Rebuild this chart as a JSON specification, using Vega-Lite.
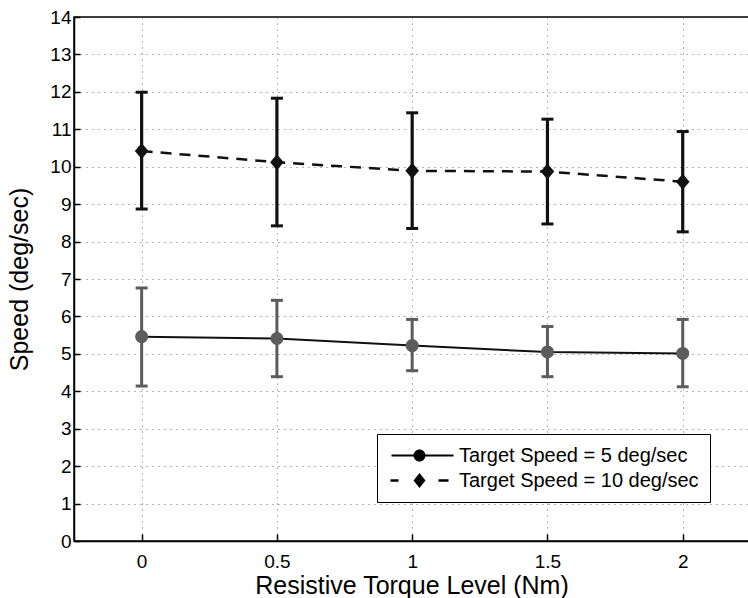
{
  "$schema": "https://vega.github.io/schema/vega-lite/v6.json",
  "width": 675,
  "height": 524,
  "autosize": {"type": "none"},
  "padding": {"left": 74, "top": 17, "right": 0, "bottom": 57},
  "background": "white",
  "config": {
    "view": {"stroke": "black", "strokeWidth": 1.5},
    "font": "Liberation Sans",
    "axis": {
      "labelFont": "Liberation Sans",
      "titleFont": "Liberation Sans",
      "labelColor": "black",
      "titleColor": "black",
      "labelFontSize": 19,
      "titleFontSize": 25,
      "titleFontWeight": "normal",
      "domainColor": "black",
      "domainWidth": 1.5,
      "tickColor": "black",
      "tickWidth": 1.5,
      "gridColor": "#444444",
      "gridDash": [1, 5],
      "gridWidth": 1,
      "gridOpacity": 0.8,
      "labelOverlap": false
    }
  },
  "data": {
    "values": [
      {"series": "Target Speed = 5 deg/sec", "x": 0, "mean": 5.46, "lo": 4.14, "hi": 6.76},
      {"series": "Target Speed = 5 deg/sec", "x": 0.5, "mean": 5.41, "lo": 4.39, "hi": 6.43},
      {"series": "Target Speed = 5 deg/sec", "x": 1, "mean": 5.22, "lo": 4.55, "hi": 5.92},
      {"series": "Target Speed = 5 deg/sec", "x": 1.5, "mean": 5.05, "lo": 4.39, "hi": 5.73},
      {"series": "Target Speed = 5 deg/sec", "x": 2, "mean": 5.01, "lo": 4.12, "hi": 5.92},
      {"series": "Target Speed = 10 deg/sec", "x": 0, "mean": 10.42, "lo": 8.87, "hi": 11.99},
      {"series": "Target Speed = 10 deg/sec", "x": 0.5, "mean": 10.12, "lo": 8.42, "hi": 11.83},
      {"series": "Target Speed = 10 deg/sec", "x": 1, "mean": 9.89, "lo": 8.35, "hi": 11.44},
      {"series": "Target Speed = 10 deg/sec", "x": 1.5, "mean": 9.87, "lo": 8.47, "hi": 11.27},
      {"series": "Target Speed = 10 deg/sec", "x": 2, "mean": 9.6, "lo": 8.26, "hi": 10.94}
    ]
  },
  "layer": [
    {
      "mark": {"type": "point", "filled": true, "opacity": 0, "fill": "black", "stroke": "black", "strokeWidth": 1},
      "encoding": {
        "x": {
          "field": "x", "type": "quantitative",
          "scale": {"domain": [-0.25, 2.245], "nice": false, "zero": false},
          "axis": {"orient": "bottom", "values": [0, 0.5, 1, 1.5, 2], "tickCount": 20, "format": ".1~f", "grid": true,
            "tickSize": -7, "labelPadding": 18, "title": "Resistive Torque Level (Nm)", "titlePadding": 2}
        },
        "y": {
          "field": "mean", "type": "quantitative",
          "scale": {"domain": [0, 14], "nice": false, "zero": true},
          "axis": {"values": [0,1,2,3,4,5,6,7,8,9,10,11,12,13,14], "tickCount": 30, "format": "d", "grid": true,
            "tickSize": -6, "labelPadding": 9, "title": "Speed (deg/sec)", "titlePadding": 17}
        },
        "shape": {"field": "series", "type": "nominal",
          "scale": {"domain": ["Target Speed = 5 deg/sec", "Target Speed = 10 deg/sec"],
            "range": ["M-0.7,-0.1H5.5V0.1H-0.7ZM1.5,0A0.6,0.6 0 1 1 2.7,0A0.6,0.6 0 1 1 1.5,0Z", "M-0.8,-0.12H0V0.12H-0.8ZM4,-0.12H5V0.12H4ZM2.1,-0.75L2.7,0L2.1,0.75L1.5,0Z"]},
          "legend": {
            "title": null,
            "orient": "none",
            "legendX": 303,
            "legendY": 417,
            "fillColor": "white",
            "strokeColor": "black",
            "padding": 11,
            "labelFontSize": 20,
            "labelFont": "Liberation Sans",
            "labelColor": "black",
            "labelLimit": 400,
            "labelOffset": 50,
            "rowPadding": 4,
            "symbolSize": 400,
            "symbolOpacity": 1,
            "symbolFillColor": "black",
            "symbolStrokeColor": "black",
            "symbolStrokeWidth": 1
          }
        }
      }
    },
    {
      "transform": [{"filter": "datum.series == 'Target Speed = 5 deg/sec'"}],
      "encoding": {"x": {"field": "x", "type": "quantitative"}},
      "layer": [
        {"mark": {"type": "rule", "strokeWidth": 3, "color": "#5c5c5c"},
         "encoding": {"y": {"field": "lo", "type": "quantitative"}, "y2": {"field": "hi"}}},
        {"mark": {"type": "tick", "orient": "horizontal", "size": 12, "thickness": 3, "opacity": 1, "color": "#5c5c5c"},
         "encoding": {"y": {"field": "lo", "type": "quantitative"}}},
        {"mark": {"type": "tick", "orient": "horizontal", "size": 12, "thickness": 3, "opacity": 1, "color": "#5c5c5c"},
         "encoding": {"y": {"field": "hi", "type": "quantitative"}}},
        {"mark": {"type": "line", "strokeWidth": 2, "color": "#111111"},
         "encoding": {"y": {"field": "mean", "type": "quantitative"}}},
        {"mark": {"type": "point", "shape": "circle", "filled": true, "opacity": 1, "size": 170, "color": "#5c5c5c"},
         "encoding": {"y": {"field": "mean", "type": "quantitative"}}}
      ]
    },
    {
      "transform": [{"filter": "datum.series == 'Target Speed = 10 deg/sec'"}],
      "encoding": {"x": {"field": "x", "type": "quantitative"}},
      "layer": [
        {"mark": {"type": "rule", "strokeWidth": 3.2, "color": "#111111"},
         "encoding": {"y": {"field": "lo", "type": "quantitative"}, "y2": {"field": "hi"}}},
        {"mark": {"type": "tick", "orient": "horizontal", "size": 12, "thickness": 3, "opacity": 1, "color": "#111111"},
         "encoding": {"y": {"field": "lo", "type": "quantitative"}}},
        {"mark": {"type": "tick", "orient": "horizontal", "size": 12, "thickness": 3, "opacity": 1, "color": "#111111"},
         "encoding": {"y": {"field": "hi", "type": "quantitative"}}},
        {"mark": {"type": "line", "strokeWidth": 2.5, "color": "#111111", "strokeDash": [11, 8]},
         "encoding": {"y": {"field": "mean", "type": "quantitative"}}},
        {"mark": {"type": "point", "shape": "M0,-1L0.85,0L0,1L-0.85,0Z", "filled": true, "opacity": 1, "size": 256, "color": "#111111"},
         "encoding": {"y": {"field": "mean", "type": "quantitative"}}}
      ]
    }
  ]
}
